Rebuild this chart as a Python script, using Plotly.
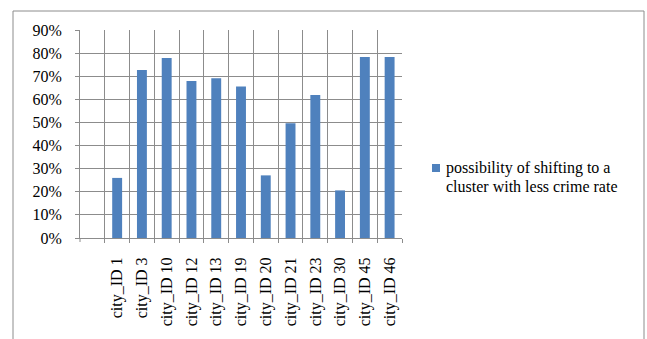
import plotly.graph_objects as go

categories = ["city_ID 1", "city_ID 3", "city_ID 10", "city_ID 12", "city_ID 13", "city_ID 19",
              "city_ID 20", "city_ID 21", "city_ID 23", "city_ID 30", "city_ID 45", "city_ID 46"]
values = [0.26, 0.727, 0.779, 0.679, 0.691, 0.655, 0.271, 0.496, 0.619, 0.206, 0.783, 0.783]
legend_lines = ["possibility of shifting to a", "cluster with less crime rate"]
y_ticks = [0, 0.1, 0.2, 0.3, 0.4, 0.5, 0.6, 0.7, 0.8, 0.9]

BLUE = "#4F81BD"
GRID = "#8c8c8c"
FONT = "'Liberation Serif', 'Times New Roman', serif"

W, H = 647, 339
L, R, T, B = 80, 402, 30, 238
pw, ph = R - L, B - T


def px_x(x):
    return (x - L) / pw


def px_y(y):
    return (B - y) / ph


fig = go.Figure()
fig.add_trace(go.Bar(x=categories, y=values, marker=dict(color=BLUE, line=dict(width=0)),
                     width=0.4, showlegend=False))

fig.update_layout(
    width=W, height=H,
    margin=dict(l=L, r=W - R, t=T, b=H - B, pad=0),
    paper_bgcolor="white", plot_bgcolor="white",
    font=dict(family=FONT, size=16, color="black"),
    showlegend=False,
    xaxis=dict(type="category", range=[-1.5, len(categories) - 0.5], tickson="boundaries",
               showgrid=True, gridcolor=GRID, gridwidth=1,
               showline=True, linecolor=GRID, linewidth=1,
               ticks="outside", ticklen=4, tickcolor=GRID, tickangle=-90,
               ticklabelstandoff=12,
               tickfont=dict(family=FONT, size=16, color="black")),
    yaxis=dict(range=[0, 0.9], tickvals=y_ticks, tickformat=".0%",
               showgrid=True, gridcolor=GRID, gridwidth=1,
               showline=True, linecolor=GRID, linewidth=1, mirror=False,
               ticks="outside", ticklen=4, tickcolor=GRID,
               ticklabelstandoff=10,
               zeroline=False,
               tickfont=dict(family=FONT, size=16, color="black")),
)

# outer chart frame (open at the bottom, as in the cropped original)
fig.add_shape(type="rect", xref="paper", yref="paper",
              x0=px_x(13), x1=px_x(644), y0=px_y(360), y1=px_y(11),
              line=dict(color=GRID, width=1), fillcolor="rgba(0,0,0,0)", layer="below")

# tick at the left end of the category axis
fig.add_shape(type="line", xref="paper", yref="paper",
              x0=0, x1=0, y0=0, y1=px_y(B + 4), line=dict(color=GRID, width=1))

# legend: swatch + two text lines
fig.add_shape(type="rect", xref="paper", yref="paper",
              x0=px_x(432), x1=px_x(440), y0=px_y(172), y1=px_y(164),
              line=dict(width=0), fillcolor=BLUE)
for i, line in enumerate(legend_lines):
    fig.add_annotation(xref="paper", yref="paper", x=px_x(444), y=px_y(168 + 18 * i),
                       xanchor="left", yanchor="middle", showarrow=False, text=line,
                       font=dict(family=FONT, size=16, color="black"))

fig.write_html("out.html")
